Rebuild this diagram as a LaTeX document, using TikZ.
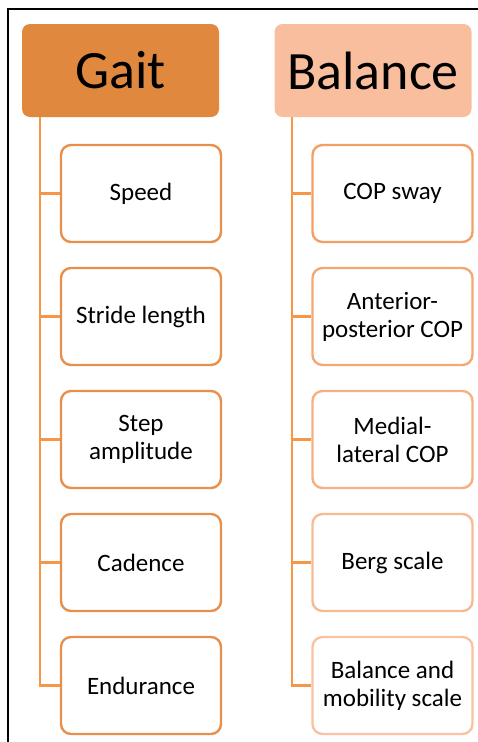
\documentclass[tikz,border=0pt]{standalone}
\usepackage{fontspec}
\setmainfont{Carlito}
\usepackage{tikz}

\definecolor{gaitfill}{HTML}{E1883F}
\definecolor{balfill}{HTML}{F8BE9D}
\definecolor{gaitline}{HTML}{E8904B}
\definecolor{trunk}{HTML}{F79646}
\definecolor{balA}{HTML}{F3A067}
\definecolor{balB}{HTML}{F4A873}
\definecolor{balC}{HTML}{F6B182}
\definecolor{balD}{HTML}{F8BA92}
\definecolor{balE}{HTML}{F9C3A2}

\tikzset{
  head/.style={rounded corners=8pt, minimum width=197pt, minimum height=93pt,
               inner sep=0pt, font=\fontsize{54}{60}\selectfont},
  item/.style={draw, line width=2.4pt, rounded corners=10pt, fill=white,
               minimum width=160pt, minimum height=97pt, inner sep=0pt,
               align=center, font=\fontsize{25}{28}\selectfont},
  link/.style={draw=trunk, line width=2.4pt}
}

\begin{document}
\begin{tikzpicture}[x=1pt,y=1pt]

  \useasboundingbox (0,0) rectangle (478,-742);
  \draw[line width=1.6pt] (478,-9) -- (8,-9) -- (8,-742);

  \node[head, fill=gaitfill] (gait) at (120.5,-70.5) {Gait};
  \node[head, fill=balfill] (balance) at (373,-70.5) {Balance};

  \coordinate (gtrunk) at (40,-117);
  \coordinate (btrunk) at (292,-117);

  \node[item, draw=gaitline] (speed) at (141,-193.5) {Speed};
  \node[item, draw=gaitline] (stride) at (141,-316.5) {Stride length};
  \node[item, draw=gaitline] (step) at (141,-439.5) {Step\\amplitude};
  \node[item, draw=gaitline] (cadence) at (141,-562.5) {Cadence};
  \node[item, draw=gaitline] (endur) at (141,-685.5) {Endurance};

  \node[item, draw=balA] (cop) at (392.5,-193.5) {COP sway};
  \node[item, draw=balB] (apcop) at (392.5,-316.5) {Anterior-\\posterior COP};
  \node[item, draw=balC] (mlcop) at (392.5,-439.5) {Medial-\\lateral COP};
  \node[item, draw=balD] (berg) at (392.5,-562.5) {Berg scale};
  \node[item, draw=balE] (bms) at (392.5,-685.5) {Balance and\\mobility scale};

  \draw[link] (gtrunk) |- (endur.west);
  \foreach \n in {speed,stride,step,cadence}
    \draw[link] (gtrunk |- \n.west) -- (\n.west);

  \draw[link] (btrunk) |- (bms.west);
  \foreach \n in {cop,apcop,mlcop,berg}
    \draw[link] (btrunk |- \n.west) -- (\n.west);

\end{tikzpicture}
\end{document}
